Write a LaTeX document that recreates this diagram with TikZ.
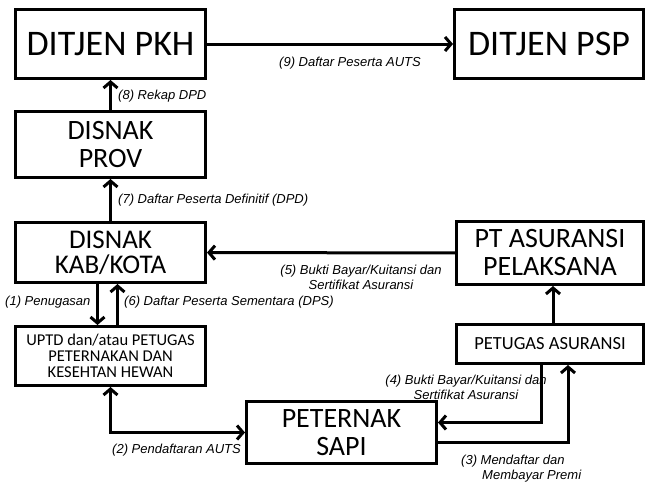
\documentclass[tikz,border=0pt]{standalone}
\usepackage{fontspec}
\setmainfont{Carlito}
\newfontfamily\lblfont{Liberation Sans}
\usetikzlibrary{arrows.meta}

\begin{document}
\begin{tikzpicture}[x = 1pt, y = -1pt,
    >={Straight Barb[length=6pt,width=14pt]},
    box/.style = {draw, line width=3pt, inner sep=0pt, align=center},
    lbl/.style = {font=\lblfont\itshape\fontsize{13}{15}\selectfont, inner sep=0pt},
    flow/.style = {line width=3pt, ->}]

    \useasboundingbox (0,0) rectangle (646,485);

    % Kotak
    \node[box, minimum width=190pt, minimum height=69pt, font=\fontsize{36}{40}\selectfont] (pkh) at (110.5,44) {DITJEN PKH};
    \node[box, minimum width=189pt, minimum height=69pt, font=\fontsize{36}{40}\selectfont] (psp) at (549,44) {DITJEN PSP};
    \node[box, minimum width=190pt, minimum height=66pt, font=\fontsize{28}{28}\selectfont] (prov) at (110.5,144.5) {DISNAK\\PROV};
    \node[box, minimum width=190pt, minimum height=60pt, font=\fontsize{27}{25}\selectfont] (kab) at (110.5,252.5) {DISNAK\\KAB/KOTA};
    \node[box, minimum width=187pt, minimum height=63pt, font=\fontsize{28}{28}\selectfont] (pt) at (550,253) {PT ASURANSI\\PELAKSANA};
    \node[box, minimum width=190pt, minimum height=59pt, font=\fontsize{16.5}{16}\selectfont] (uptd) at (110.5,356) {UPTD dan/atau PETUGAS\\PETERNAKAN DAN\\KESEHTAN HEWAN};
    \node[box, minimum width=187pt, minimum height=39pt, font=\fontsize{18.5}{20}\selectfont] (pet) at (550,344) {PETUGAS ASURANSI};
    \node[box, minimum width=190pt, minimum height=62pt, font=\fontsize{28}{28}\selectfont] (sapi) at (341.5,432.5) {PETERNAK\\SAPI};

    % Keterangan
    \node[lbl] (l9) at (350,63) {(9) Daftar Peserta AUTS};
    \node[lbl, anchor=west] (l8) at (118,96) {(8) Rekap DPD};
    \node[lbl, anchor=west] (l7) at (118,200) {(7) Daftar Peserta Definitif (DPD)};
    \node[lbl, align=center] (l5) at (361,277) {(5) Bukti Bayar/Kuitansi dan\\Sertifikat Asuransi};
    \node[lbl, anchor=west] (l1) at (5,302) {(1) Penugasan};
    \node[lbl, anchor=west] (l6) at (124,302) {(6) Daftar Peserta Sementara (DPS)};
    \node[lbl, align=center] (l4) at (466,387) {(4) Bukti Bayar/Kuitansi dan\\Sertifikat Asuransi};
    \node[lbl, anchor=west] (l2) at (112,450) {(2) Pendaftaran AUTS};
    \node[lbl, align=left, anchor=north west] (l3) at (461,455) {(3) Mendaftar dan\\\hspace*{21pt}Membayar Premi};

    % Alur
    \draw[flow] (pkh) -- (psp);
    \draw[flow] (prov) -- (pkh);
    \draw[flow] (kab) -- (prov);
    \draw[flow] (pt) -- (kab);
    \draw[flow] ([xshift=-13pt]kab.south) -- ([xshift=-13pt]uptd.north);
    \draw[flow] ([xshift=7pt]uptd.north) -- ([xshift=7pt]kab.south);
    \draw[flow] ([xshift=3pt]pet.north) -- ([xshift=3pt]pt.south);
    \draw[flow, <->] (uptd.south) |- (sapi.west);
    \draw[flow] ([xshift=-9pt]pet.south) |- ([yshift=10pt]sapi.east);
    \draw[flow] ([yshift=-10pt]sapi.east) -| ([xshift=18pt]pet.south);

\end{tikzpicture}
\end{document}
